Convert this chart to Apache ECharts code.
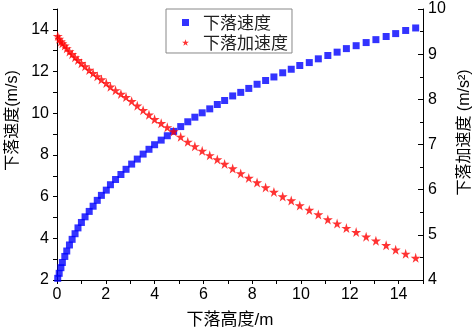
<!DOCTYPE html>
<html>
<head>
<meta charset="utf-8">
<script src="https://cdn.jsdelivr.net/npm/echarts@6/dist/echarts.min.js"></script>
<style>html,body{margin:0;padding:0;background:#fff}#c{width:472px;height:330px}</style>
</head>
<body>
<div id="c"></div>
<script>
const heights = [0.03,0.09,0.16,0.22,0.32,0.40,0.51,0.62,0.74,0.86,1.00,1.15,1.32,1.48,1.65,1.82,2.02,2.19,2.40,2.62,2.83,3.06,3.29,3.53,3.77,4.00,4.27,4.52,4.78,5.07,5.36,5.65,5.95,6.26,6.57,6.87,7.20,7.53,7.86,8.20,8.55,8.89,9.25,9.60,9.95,10.34,10.71,11.10,11.48,11.86,12.26,12.67,13.07,13.49,13.88,14.29,14.70];
const speed = [2.08,2.32,2.59,2.84,3.13,3.39,3.68,3.95,4.22,4.50,4.76,5.03,5.29,5.54,5.82,6.06,6.31,6.57,6.82,7.06,7.31,7.56,7.80,8.04,8.27,8.49,8.71,8.92,9.13,9.36,9.59,9.81,10.02,10.21,10.42,10.61,10.83,11.00,11.19,11.39,11.57,11.74,11.94,12.11,12.29,12.43,12.61,12.77,12.93,13.10,13.24,13.39,13.53,13.68,13.82,13.97,14.09];
const accel = [9.40,9.34,9.28,9.24,9.19,9.13,9.06,9.00,8.93,8.87,8.80,8.73,8.65,8.58,8.51,8.44,8.36,8.28,8.20,8.12,8.05,7.96,7.86,7.76,7.66,7.56,7.47,7.38,7.29,7.17,7.06,6.96,6.86,6.76,6.67,6.57,6.47,6.36,6.26,6.16,6.05,5.95,5.85,5.76,5.65,5.55,5.45,5.34,5.25,5.15,5.06,4.96,4.87,4.77,4.67,4.58,4.49];
const seriesNames = ['下落速度', '下落加速度'];
const xName = '下落高度/m';
const yLeftName = '下落速度(m/s)';
const yRightName = '下落加速度 (m/s²)';

const star = 'path://M50,0 L61,35 L98,35 L68,57 L79,91 L50,70 L21,91 L32,57 L2,35 L39,35 Z';
const font = 'Liberation Sans, Arial, Noto Sans CJK SC, sans-serif';
const cjk = 'Liberation Sans, Noto Sans CJK SC, sans-serif';

const chart = echarts.init(document.getElementById('c'), null, {renderer: 'canvas'});
chart.setOption({
  animation: false,
  backgroundColor: '#fff',
  grid: {left: 57, right: 49, top: 9, bottom: 50, containLabel: false, outerBoundsMode: 'none'},
  legend: {
    left: 166, top: 9, orient: 'vertical',
    borderColor: '#888', borderWidth: 1,
    padding: [5, 4, 2, 16],
    itemGap: 3, itemWidth: 7, itemHeight: 7,
    textStyle: {fontSize: 17, fontFamily: 'Noto Sans CJK SC', color: '#222', padding: [0, 0, 0, 9]},
    data: [{name: seriesNames[0], icon: 'rect'}, {name: seriesNames[1], icon: star}]
  },
  xAxis: {
    type: 'value', min: 0, max: 15, interval: 1,
    name: xName, nameLocation: 'middle', nameGap: 32,
    nameTextStyle: {fontSize: 17, fontFamily: cjk, color: '#000', padding: [0, 20, 0, 0]},
    axisLine: {lineStyle: {color: '#000', width: 1}},
    axisTick: {inside: false, length: 4, lineStyle: {color: '#000'}},
    axisLabel: {fontSize: 16, fontFamily: font, color: '#000', margin: 7,
      formatter: v => (v % 2 === 0 && v <= 14) ? String(v) : ''},
    splitLine: {show: false}
  },
  yAxis: [{
    type: 'value', min: 2, max: 15, interval: 1, position: 'left',
    name: yLeftName, nameLocation: 'middle', nameGap: 29, nameRotate: 90,
    nameTextStyle: {fontSize: 16, fontFamily: cjk, color: '#000', padding: [0, 0, 0, 48]},
    axisLine: {show: true, lineStyle: {color: '#000', width: 1}},
    axisTick: {show: true, inside: false, length: 4, lineStyle: {color: '#000'}},
    axisLabel: {fontSize: 16, fontFamily: font, color: '#000', margin: 8,
      formatter: v => (v % 2 === 0 && v <= 14) ? String(v) : ''},
    splitLine: {show: false}
  }, {
    type: 'value', min: 4, max: 10, interval: 1, position: 'right',
    name: yRightName, nameLocation: 'middle', nameGap: 30, nameRotate: 90,
    nameTextStyle: {fontSize: 16, fontFamily: cjk, color: '#000', padding: [0, 0, 0, 24]},
    axisLine: {show: true, lineStyle: {color: '#000', width: 1}},
    axisTick: {show: true, inside: true, length: 5, lineStyle: {color: '#000'}},
    minorTick: {show: true, splitNumber: 2, length: 3, lineStyle: {color: '#000'}},
    axisLabel: {fontSize: 16, fontFamily: font, color: '#000', margin: 5},
    splitLine: {show: false}, minorSplitLine: {show: false}
  }],
  series: [{
    name: seriesNames[0], type: 'scatter', yAxisIndex: 0,
    symbol: 'rect', symbolSize: 7,
    itemStyle: {color: '#0000ff'},
    data: heights.map((h, i) => [h, speed[i]])
  }, {
    name: seriesNames[1], type: 'scatter', yAxisIndex: 1,
    symbol: star, symbolSize: 10,
    itemStyle: {color: '#ff0000'},
    data: heights.map((h, i) => [h, accel[i]])
  }]
});
</script>
</body>
</html>
